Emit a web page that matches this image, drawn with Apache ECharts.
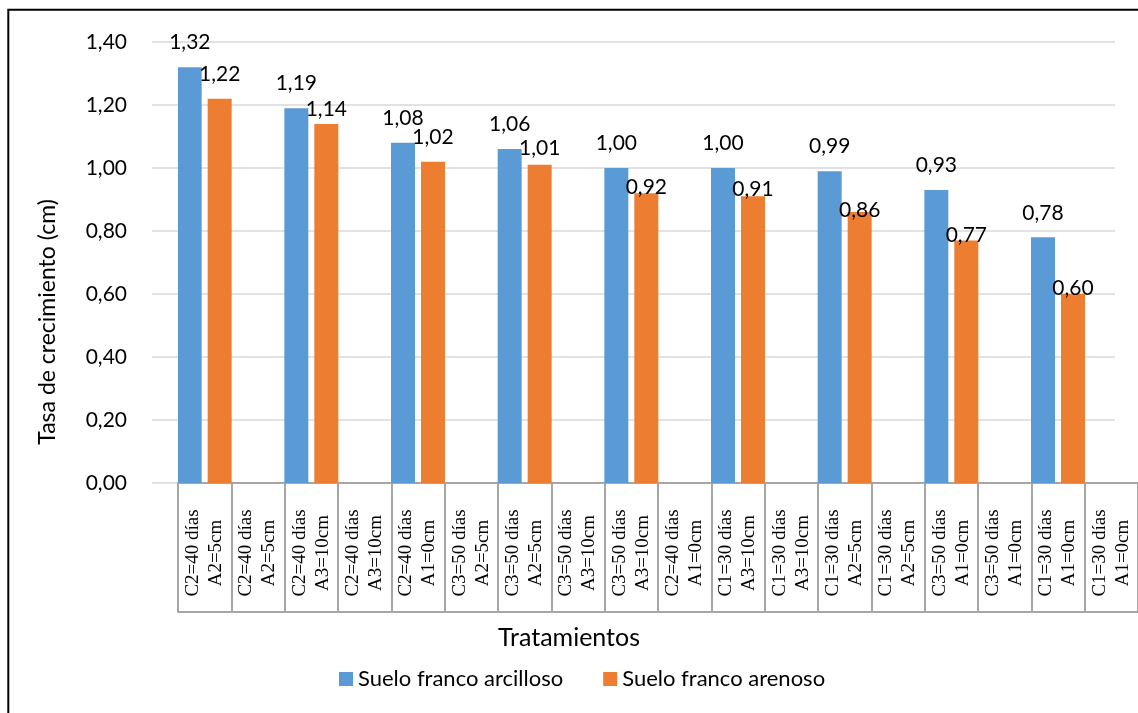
<!DOCTYPE html>
<html>
<head>
<meta charset="utf-8">
<script src="https://cdn.jsdelivr.net/npm/echarts@6/dist/echarts.min.js"></script>
<style>
  html, body { margin: 0; padding: 0; background: #fff; }
  #chart { width: 1138px; height: 713px; }
</style>
</head>
<body>
<div id="chart"></div>
<script>
// Treatment labels (soil depth C and planting depth A), two lines each
const categories = [
  'C2=40 días\nA2=5cm', 'C2=40 días\nA2=5cm',
  'C2=40 días\nA3=10cm', 'C2=40 días\nA3=10cm',
  'C2=40 días\nA1=0cm', 'C3=50 días\nA2=5cm',
  'C3=50 días\nA2=5cm', 'C3=50 días\nA3=10cm',
  'C3=50 días\nA3=10cm', 'C2=40 días\nA1=0cm',
  'C1=30 días\nA3=10cm', 'C1=30 días\nA3=10cm',
  'C1=30 días\nA2=5cm', 'C1=30 días\nA2=5cm',
  'C3=50 días\nA1=0cm', 'C3=50 días\nA1=0cm',
  'C1=30 días\nA1=0cm', 'C1=30 días\nA1=0cm'
];

const seriesNames = ['Suelo franco arcilloso', 'Suelo franco arenoso'];

// Growth rate (cm); null = no bar for that category
const arcilloso = [1.32, null, 1.19, null, 1.08, null, 1.06, null, 1.00, null, 1.00, null, 0.99, null, 0.93, null, 0.78, null];
const arenoso   = [1.22, null, 1.14, null, 1.02, null, 1.01, null, 0.92, null, 0.91, null, 0.86, null, 0.77, null, 0.60, null];

const yTicks = [0, 0.2, 0.4, 0.6, 0.8, 1.0, 1.2, 1.4];

const fmt = v => Number(v).toFixed(2).replace('.', ',');
const SANS = 'Lato';

// Some value labels of the second series sit lower, closer to their bars
const arenosoLabelDrop = { 2: 10, 6: 8, 8: 19, 10: 17, 12: 23, 14: 19, 16: 19 };

const chart = echarts.init(document.getElementById('chart'), null, { renderer: 'canvas' });

const labelBase = {
  show: true,
  position: 'top',
  distance: 14,
  color: '#000',
  fontFamily: SANS,
  fontSize: 21,
  formatter: p => (p.value == null ? '' : fmt(p.value))
};

chart.setOption({
  animation: false,
  backgroundColor: '#fff',
  grid: [
    { left: 152, top: 42, width: 963, height: 441 },
    { left: 178, top: 42, width: 964, height: 441 }
  ],
  title: {
    text: 'Tratamientos',
    left: 'center',
    top: 620,
    textStyle: { fontFamily: SANS, fontSize: 25, fontWeight: 'normal', color: '#000' }
  },
  legend: {
    data: seriesNames,
    left: 334,
    top: 663,
    icon: 'rect',
    itemWidth: 14,
    itemHeight: 14,
    itemGap: 40,
    textStyle: { fontFamily: SANS, fontSize: 22, color: '#000' }
  },
  xAxis: [
    { gridIndex: 0, type: 'category', data: [''], show: false },
    {
      gridIndex: 1,
      type: 'category',
      data: categories,
      axisLine: { lineStyle: { color: '#a6a6a6', width: 2 } },
      axisTick: { show: true, interval: 0, length: 129, lineStyle: { color: '#a6a6a6', width: 2 } },
      axisLabel: {
        interval: 0,
        rotate: 90,
        align: 'center',
        verticalAlign: 'middle',
        margin: 70,
        fontFamily: 'Liberation Serif',
        fontSize: 19,
        lineHeight: 23,
        color: '#000'
      },
      splitLine: { show: false }
    },
    {
      gridIndex: 1,
      type: 'category',
      data: categories,
      position: 'bottom',
      offset: 129,
      axisLine: { lineStyle: { color: '#a6a6a6', width: 2 } },
      axisTick: { show: false },
      axisLabel: { show: false }
    }
  ],
  yAxis: [
    {
      gridIndex: 0,
      type: 'value',
      min: yTicks[0],
      max: yTicks[yTicks.length - 1],
      interval: yTicks[1] - yTicks[0],
      axisLine: { show: false },
      axisTick: { show: false },
      axisLabel: { margin: 25, fontFamily: SANS, fontSize: 21, color: '#000', formatter: v => fmt(v) },
      splitLine: { lineStyle: { color: '#d9d9d9', width: 1.5 } }
    },
    {
      gridIndex: 1,
      type: 'value',
      min: yTicks[0],
      max: yTicks[yTicks.length - 1],
      interval: yTicks[1] - yTicks[0],
      show: false,
      splitLine: { show: false }
    }
  ],
  series: [
    {
      name: seriesNames[0],
      type: 'bar',
      xAxisIndex: 1,
      yAxisIndex: 1,
      barWidth: 24,
      barGap: '25%',
      itemStyle: { color: '#5B9BD5' },
      label: labelBase,
      data: arcilloso
    },
    {
      name: seriesNames[1],
      type: 'bar',
      xAxisIndex: 1,
      yAxisIndex: 1,
      barWidth: 24,
      barGap: '25%',
      itemStyle: { color: '#ED7D31' },
      label: labelBase,
      data: arenoso.map((v, i) => (arenosoLabelDrop[i]
        ? { value: v, label: { offset: [0, arenosoLabelDrop[i]] } }
        : v))
    }
  ],
  graphic: [
    {
      type: 'rect',
      silent: true,
      shape: { x: 8.3, y: 9.8, width: 1300, height: 900 },
      style: { fill: 'none', stroke: '#000', lineWidth: 2 }
    },
    {
      type: 'text',
      x: 48,
      y: 322,
      rotation: Math.PI / 2,
      style: {
        text: 'Tasa de crecimiento (cm)',
        fontFamily: SANS,
        fontSize: 23,
        fill: '#000',
        align: 'center',
        verticalAlign: 'middle'
      }
    }
  ]
});
</script>
</body>
</html>
